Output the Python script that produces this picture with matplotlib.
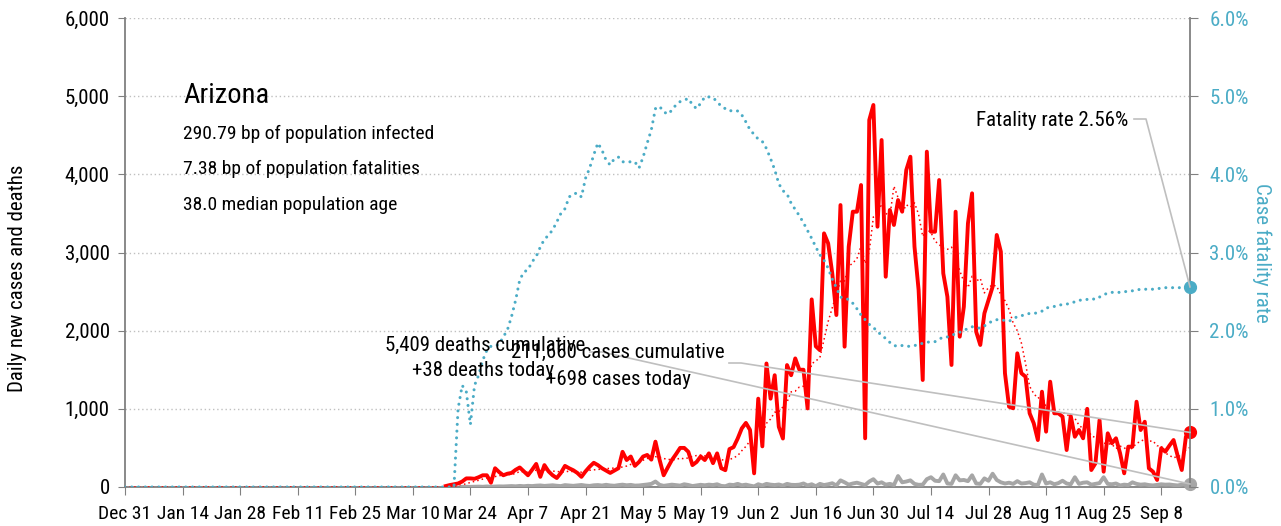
import matplotlib
matplotlib.use('Agg')
import matplotlib.pyplot as plt
import matplotlib.dates as mdates
from matplotlib import font_manager
from matplotlib.lines import Line2D
from matplotlib.ticker import FuncFormatter
from matplotlib.transforms import IdentityTransform
import pandas as pd

# pick a narrow sans if one is installed
fonts = {(f.name, f.stretch) for f in font_manager.fontManager.ttflist}
names = {n for n, s in fonts}
FS = 1.0
if 'Roboto Condensed' in names:
    plt.rcParams['font.family'] = ['Roboto Condensed', 'DejaVu Sans']
elif 'Liberation Sans Narrow' in names:
    plt.rcParams['font.family'] = ['Liberation Sans Narrow', 'DejaVu Sans']
elif ('DejaVu Sans', 'condensed') in fonts:
    plt.rcParams['font.family'] = ['DejaVu Sans']
    plt.rcParams['font.stretch'] = 'condensed'
    FS = 0.9
else:
    plt.rcParams['font.family'] = ['Liberation Sans', 'DejaVu Sans']
    FS = 0.85

RED = '#ff0000'
TEAL = '#4bacc6'
GRAY = '#a6a6a6'
LEADER = '#bfbfbf'
SPINE = '#808080'

# --- data -------------------------------------------------------------
start, end = '2019-12-31', '2020-09-15'
cases_start = '2020-03-18'
deaths_start = '2020-03-22'
rate_start = '2020-03-21'

# daily new cases from Mar 18
cases = [
    12, 25, 35, 45, 70, 110, 110, 105, 125, 150,
    150, 55, 240, 190, 150, 170, 180, 220, 250, 200,
    150, 220, 295, 130, 280, 200, 150, 115, 180, 270,
    240, 215, 180, 130, 200, 260, 310, 280, 240, 210,
    180, 210, 240, 450, 345, 390, 270, 320, 390, 410,
    350, 580, 350, 150, 250, 345, 420, 500, 500, 450,
    280, 320, 390, 345, 430, 305, 430, 240, 215, 485,
    510, 620, 750, 820, 730, 175, 1130, 520, 1580, 1130,
    1430, 770, 620, 1560, 1430, 1645, 1500, 1500, 1005, 2400,
    1800, 1750, 3245, 3117, 2733, 2200, 3607, 1795, 3074, 3522,
    3522, 3863, 623, 4695, 4887, 3330, 4439, 2690, 3544, 3352,
    3671, 3522, 4055, 4225, 3074, 2520, 1369, 4290, 3266, 3266,
    3927, 2733, 2434, 1561, 3522, 1923, 2306, 3373, 3757, 1987,
    1817, 2222, 2392, 2562, 3224, 3010, 1455, 1027, 1007, 1710,
    1455, 1411, 943, 815, 601, 1219, 708, 1347, 943, 943,
    900, 473, 908, 643, 729, 623, 1000, 217, 303, 857,
    196, 687, 559, 623, 431, 175, 516, 516, 1091, 729,
    835, 239, 196, 90, 495, 452, 530, 601, 400, 217,
    643, 698,
]

# daily deaths from Mar 22
deaths = [
    2, 3, 2, 4, 5, 3, 7, 4, 6, 8,
    7, 10, 12, 9, 14, 10, 15, 12, 17, 20,
    14, 18, 22, 16, 12, 24, 20, 15, 21, 26,
    18, 14, 22, 25, 19, 28, 20, 16, 24, 30,
    22, 27, 18, 20, 26, 32, 40, 70, 28, 15,
    22, 30, 24, 18, 35, 26, 12, 20, 28, 22,
    30, 25, 35, 14, 10, 30, 25, 40, 22, 30,
    18, 8, 35, 20, 40, 30, 25, 32, 18, 40,
    28, 26, 30, 45, 20, 35, 10, 40, 25, 35,
    48, 20, 85, 60, 30, 45, 55, 40, 24, 70,
    100, 44, 60, 30, 40, 25, 140, 60, 70, 85,
    40, 28, 30, 100, 125, 80, 75, 160, 45, 40,
    150, 85, 90, 75, 150, 45, 40, 110, 80, 170,
    90, 60, 45, 55, 40, 75, 45, 50, 60, 30,
    25, 160, 45, 60, 35, 50, 80, 45, 35, 125,
    40, 55, 60, 30, 40, 50, 125, 40, 35, 45,
    20, 30, 25, 60, 40, 30, 35, 25, 20, 28,
    35, 30, 32, 25, 20, 30, 35, 38,
]

# case fatality rate (%) from Mar 21
fatality_rate = [
    1.00, 1.30, 1.22, 0.80, 1.30, 1.43, 1.62, 1.75, 1.80, 1.80,
    1.83, 1.92, 2.01, 2.18, 2.39, 2.65, 2.75, 2.78, 2.88, 2.95,
    3.07, 3.17, 3.22, 3.29, 3.39, 3.50, 3.56, 3.71, 3.75, 3.76,
    3.71, 3.95, 4.08, 4.25, 4.40, 4.31, 4.18, 4.12, 4.20, 4.22,
    4.16, 4.16, 4.16, 4.16, 4.08, 4.22, 4.40, 4.57, 4.84, 4.87,
    4.80, 4.77, 4.82, 4.89, 4.93, 4.95, 4.97, 4.89, 4.84, 4.91,
    4.99, 4.99, 4.98, 4.93, 4.87, 4.84, 4.81, 4.82, 4.81, 4.76,
    4.67, 4.57, 4.51, 4.45, 4.42, 4.33, 4.20, 4.06, 3.88, 3.79,
    3.75, 3.63, 3.55, 3.47, 3.38, 3.28, 3.18, 3.07, 2.97, 2.90,
    2.80, 2.66, 2.55, 2.43, 2.41, 2.40, 2.35, 2.28, 2.20, 2.14,
    2.08, 2.04, 1.99, 1.94, 1.90, 1.85, 1.81, 1.80, 1.81, 1.80,
    1.80, 1.81, 1.82, 1.84, 1.85, 1.86, 1.86, 1.89, 1.92, 1.92,
    1.94, 1.96, 1.98, 2.00, 2.03, 2.05, 2.04, 2.03, 2.06, 2.10,
    2.12, 2.14, 2.14, 2.13, 2.12, 2.15, 2.18, 2.19, 2.21, 2.22,
    2.22, 2.23, 2.25, 2.29, 2.30, 2.31, 2.33, 2.33, 2.34, 2.35,
    2.37, 2.39, 2.39, 2.40, 2.41, 2.40, 2.43, 2.46, 2.48, 2.49,
    2.49, 2.49, 2.50, 2.50, 2.51, 2.52, 2.53, 2.53, 2.53, 2.53,
    2.54, 2.54, 2.55, 2.55, 2.55, 2.55, 2.55, 2.56, 2.56,
]

state = 'Arizona'
stats = ['290.79 bp of population infected',
         '7.38 bp of population fatalities',
         '38.0 median population age']
total_cases, total_deaths = 211660, 5409

days = pd.date_range(start, end)
cases_s = pd.Series(cases, index=pd.date_range(cases_start, periods=len(cases)))
deaths_s = pd.Series(deaths, index=pd.date_range(deaths_start, periods=len(deaths)))
rate_s = pd.Series(fatality_rate, index=pd.date_range(rate_start, periods=len(fatality_rate)))
cases_avg = cases_s.reindex(days, fill_value=0).rolling(7, min_periods=1).mean()
rate_full = rate_s.reindex(days, fill_value=0)

# --- figure -----------------------------------------------------------
W, H = 1281, 526
fig = plt.figure(figsize=(W / 100, H / 100), dpi=100)
ax = fig.add_axes([125 / W, 39 / H, 1065 / W, 469 / H])
ax2 = ax.twinx()

ax.plot(cases_avg.index, cases_avg.values, color=RED, lw=1.1, ls=(0, (1, 2)), zorder=3)
ax.plot(deaths_s.index, deaths_s.values, color=GRAY, lw=2.8, zorder=3)
ax.plot(cases_s.index, cases_s.values, color=RED, lw=2.8, zorder=4)
ax2.plot(rate_full.index, rate_full.values, color=TEAL, lw=2.2,
         ls=(0, (0.01, 2.2)), dash_capstyle='round')

last = days[-1]
ax.plot(last, cases[-1], 'o', color=RED, ms=8.5, clip_on=False, zorder=6)
ax.plot(last, deaths[-1], 'o', color=GRAY, ms=8.5, clip_on=False, zorder=6)
ax2.plot(last, fatality_rate[-1], 'o', color=TEAL, ms=8.5, clip_on=False, zorder=6)

ax.set_xlim(days[0], days[-1])
ax.set_ylim(0, 6000)
ax2.set_ylim(0, 6)
ax.set_yticks(range(0, 6001, 1000))
ax2.set_yticks(range(0, 7))
ax.yaxis.set_major_formatter(FuncFormatter(lambda v, p: f'{v:,.0f}'))
ax2.yaxis.set_major_formatter(FuncFormatter(lambda v, p: f'{v:.1f}%'))
ax.set_xticks(pd.date_range(start, end, freq='14D'))
ax.xaxis.set_major_formatter(mdates.DateFormatter('%b %-d'))

ax.yaxis.grid(True, color='#c0c0c0', lw=1, ls=(0, (1, 2)))
ax.set_axisbelow(True)

for a in (ax, ax2):
    for s in a.spines.values():
        s.set_visible(False)
ax.spines['left'].set_visible(True)
ax.spines['bottom'].set_visible(True)
ax2.spines['right'].set_visible(True)
for s in (ax.spines['left'], ax.spines['bottom'], ax2.spines['right']):
    s.set_color(SPINE)
    s.set_linewidth(1.3)

ax.tick_params(axis='y', direction='out', length=5, color=SPINE, labelsize=15 * FS, pad=6)
ax.tick_params(axis='x', direction='out', length=6, color=SPINE, labelsize=14 * FS, pad=7)
ax2.tick_params(axis='y', direction='out', length=6, color=SPINE, labelsize=15 * FS,
                pad=8, labelcolor=TEAL)

ax.set_ylabel('Daily new cases and deaths', fontsize=15 * FS, va='center', ha='center')
ax.yaxis.set_label_coords((18 - 125) / 1065, (487 - 278) / 469)
ax2.set_ylabel('Case fatality rate', fontsize=15 * FS, color=TEAL, rotation=270,
               va='center', ha='center')
ax2.yaxis.set_label_coords((1262 - 125) / 1065, 0.5)


def fx(x):
    return x / W


def fy(y):
    return 1 - y / H


fig.text(fx(183), fy(103), state, fontsize=20.5 * FS)
for i, line in enumerate(stats):
    fig.text(fx(183), fy(139 + 35.5 * i), line, fontsize=14 * FS)

fig.text(fx(485), fy(351), f'{total_deaths:,} deaths cumulative', fontsize=15 * FS, ha='center')
fig.text(fx(483), fy(376), f'+{deaths[-1]} deaths today', fontsize=15 * FS, ha='center')
fig.text(fx(618), fy(358), f'{total_cases:,} cases cumulative', fontsize=15 * FS, ha='center')
fig.text(fx(619), fy(385), f'+{cases[-1]} cases today', fontsize=15 * FS, ha='center')
fig.text(fx(1128), fy(126), f'Fatality rate {fatality_rate[-1]:.2f}%', fontsize=15 * FS, ha='right')


def leader(axis, value, x0, y0):
    tx, ty = axis.transData.transform((mdates.date2num(last), value))
    fig.add_artist(Line2D([x0, x0 + 12, tx], [H - y0, H - y0, ty], color=LEADER,
                          lw=1.2, transform=IdentityTransform(), zorder=1))


leader(ax, deaths[-1], 590, 352)
leader(ax, cases[-1], 729, 363)
leader(ax2, fatality_rate[-1], 1134, 119)

fig.savefig('out.png', dpi=100)
